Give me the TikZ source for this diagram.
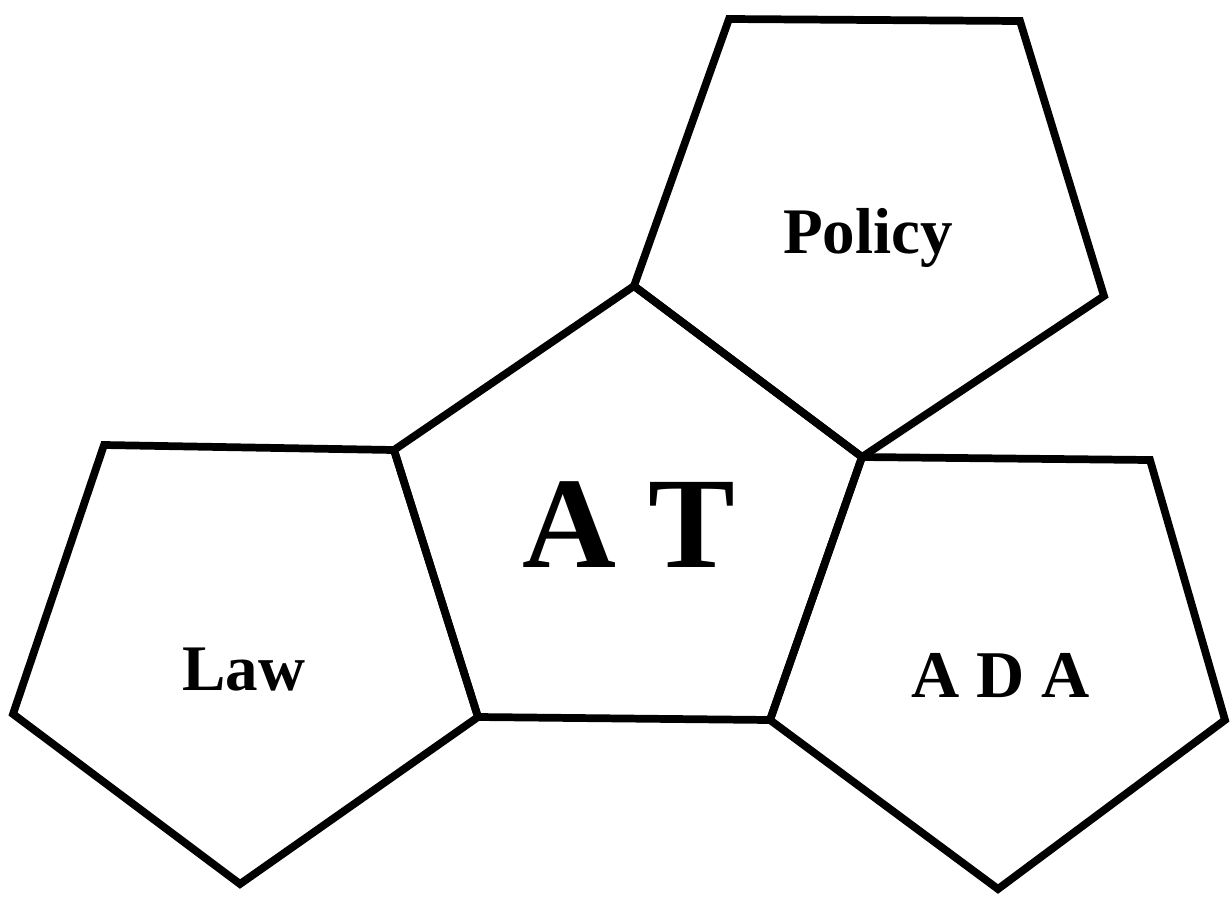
\documentclass[tikz,border=0pt]{standalone}
\usepackage{fontspec}
\setmainfont{Liberation Serif}
\begin{document}
\begin{tikzpicture}[x=0.02cm,y=-0.02cm,
  pent/.style={draw=black,line width=4.4pt,line join=miter},
  lbl/.style={font=\bfseries,anchor=base,inner sep=0pt}]
\useasboundingbox (0,0) rectangle (1232,897);
% shared vertices
\coordinate (c1) at (634,286);
\coordinate (c2) at (394,450);
\coordinate (c3) at (862,457);
\coordinate (c4) at (478,717);
\coordinate (c5) at (770,720);
% Policy
\coordinate (p1) at (729,19);
\coordinate (p2) at (1020,21);
\coordinate (p3) at (1104,296);
% Law
\coordinate (l1) at (104,445);
\coordinate (l4) at (240,884);
\coordinate (l5) at (13,714);
% ADA
\coordinate (a2) at (1150,460);
\coordinate (a3) at (1225,720);
\coordinate (a4) at (998,889);
\draw[pent] (c1) -- (c2) -- (c4) -- (c5) -- (c3) -- cycle;
\draw[pent] (p1) -- (p2) -- (p3) -- (c3) -- (c1) -- cycle;
\draw[pent] (l1) -- (c2) -- (c4) -- (l4) -- (l5) -- cycle;
\draw[pent] (c3) -- (a2) -- (a3) -- (a4) -- (c5) -- cycle;
\node[lbl,font=\bfseries\fontsize{37}{40}\selectfont] (policy) at (868,253) {Policy};
\node[lbl,font=\bfseries\fontsize{37}{40}\selectfont] (law) at (244,690) {Law};
\node[lbl,font=\bfseries\fontsize{38}{42}\selectfont] (ada) at (1001,697) {A D A};
\node[lbl,font=\bfseries\fontsize{74}{80}\selectfont] (at) at (629,567) {A T};
\end{tikzpicture}
\end{document}
